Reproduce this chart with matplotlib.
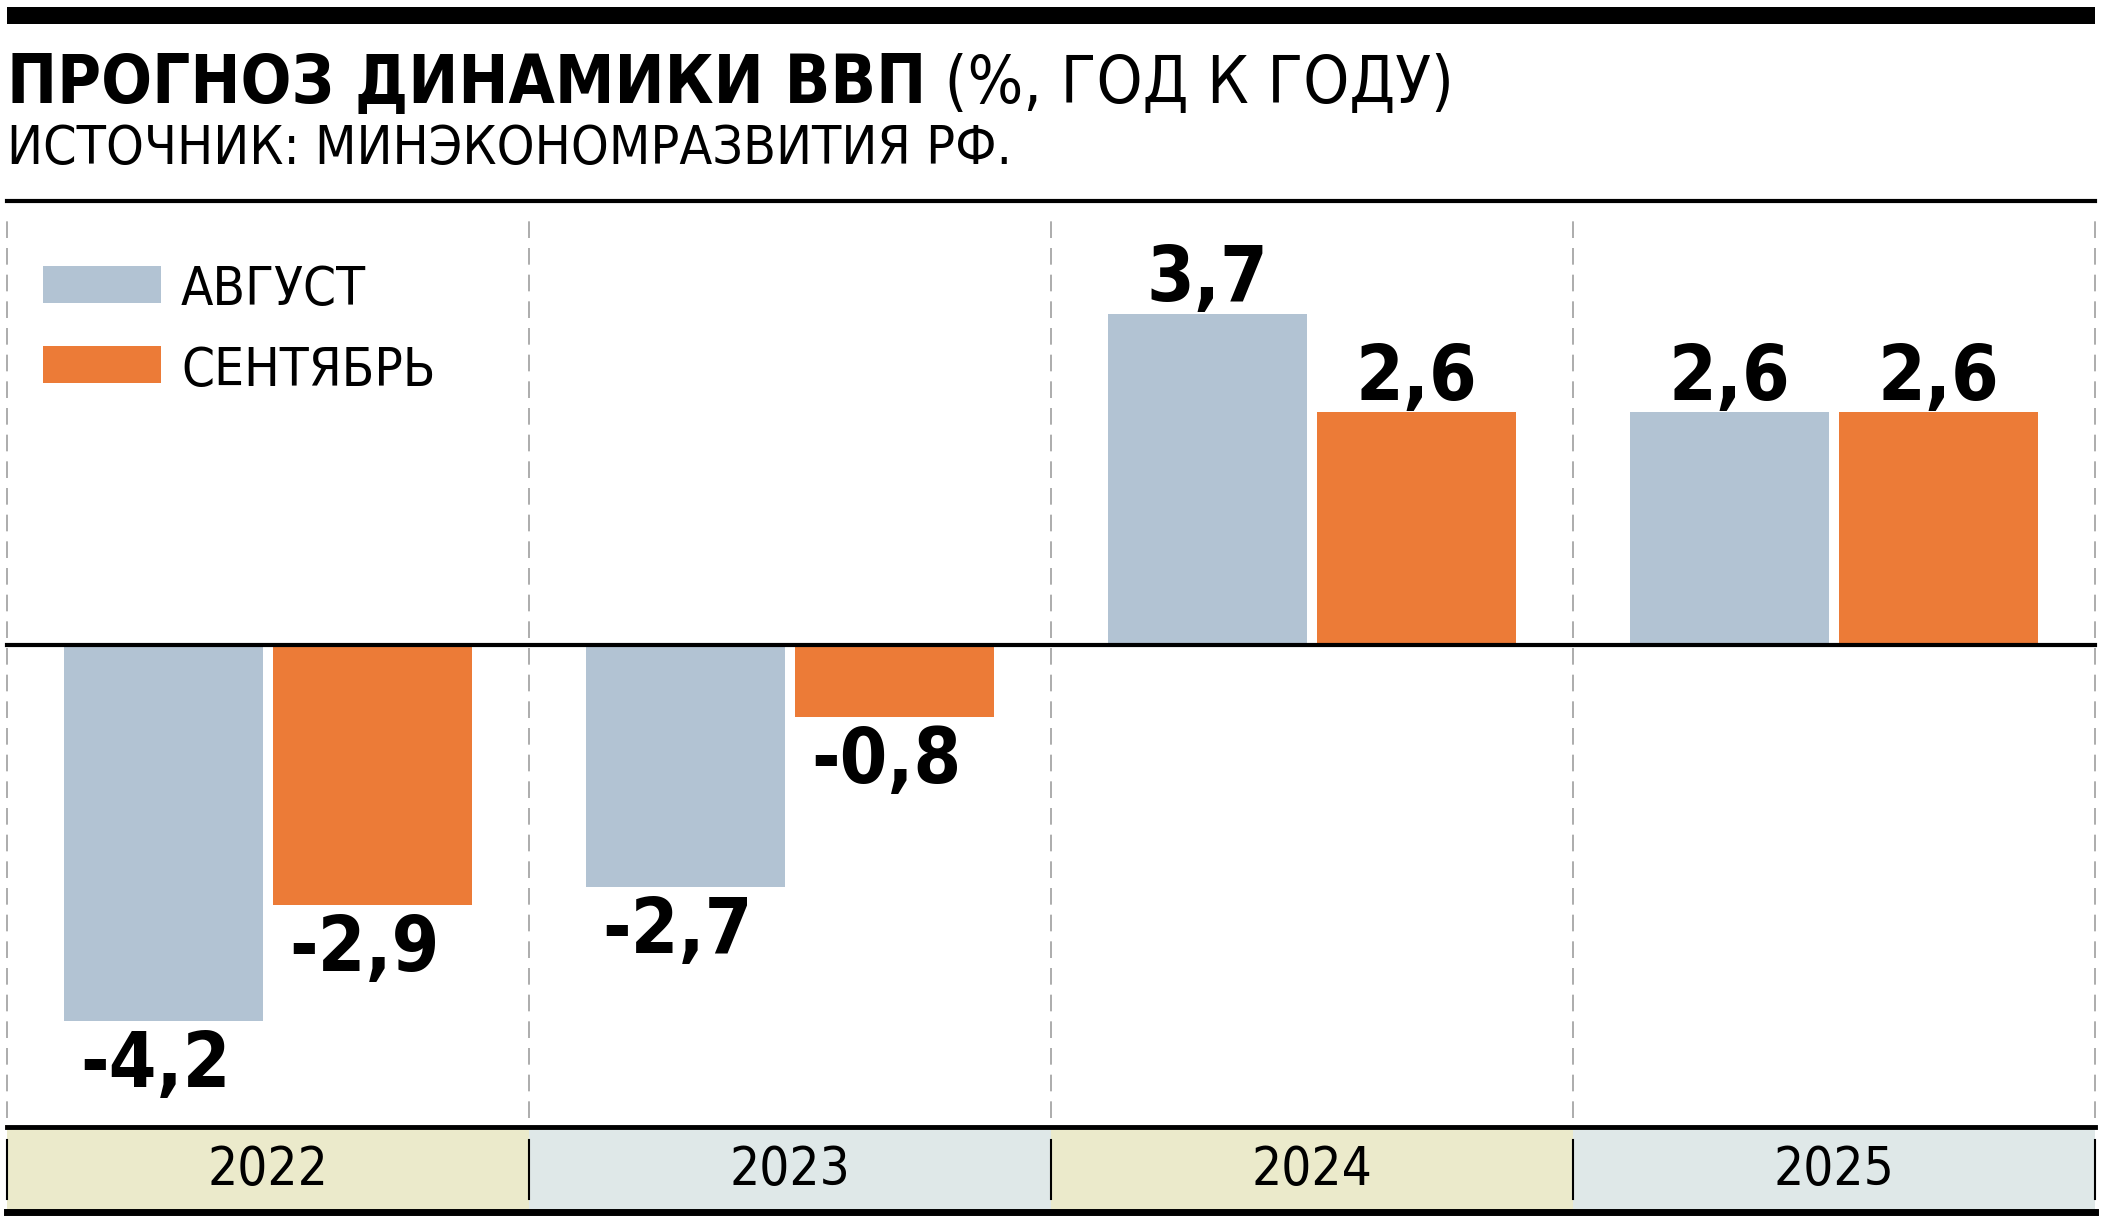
import matplotlib
matplotlib.use("Agg")
import matplotlib.pyplot as plt
from matplotlib.patches import Rectangle
from matplotlib.lines import Line2D

years = ["2022", "2023", "2024", "2025"]
series_names = ["АВГУСТ", "СЕНТЯБРЬ"]
august = [-4.2, -2.7, 3.7, 2.6]
september = [-2.9, -0.8, 2.6, 2.6]

title_bold = "ПРОГНОЗ ДИНАМИКИ ВВП"
title_rest = " (%, ГОД К ГОДУ)"
subtitle = "ИСТОЧНИК: МИНЭКОНОМРАЗВИТИЯ РФ."

colors = ["#b2c3d3", "#ec7b37"]
band_colors = ["#ebeacb", "#dfe8e8"]

plt.rcParams["font.family"] = ["DejaVu Sans"]
plt.rcParams["font.stretch"] = "condensed"

W, H = 2106, 1232
fig = plt.figure(figsize=(W / 100, H / 100), dpi=100)


def fx(px):
    return px / W


def fy(py):
    return 1 - py / H


# top black bar and rule under subtitle
fig.add_artist(Rectangle((fx(7), fy(24)), fx(2095) - fx(7), 17 / H,
                         transform=fig.transFigure, color="black", lw=0))
fig.add_artist(Line2D([fx(7), fx(2095)], [fy(201), fy(201)], lw=3, color="black"))

t1 = fig.text(fx(7), fy(103), title_bold, fontsize=48, fontweight="bold", va="baseline")
fig.canvas.draw()
bb = t1.get_window_extent()
fig.text(bb.x1 / W, fy(103), title_rest, fontsize=47, va="baseline")
fig.text(fx(7), fy(164), subtitle, fontsize=38.5, va="baseline")

# main chart
y_top, y_bot, y_zero, px_per_unit = 215, 1118, 645, 89.5
ax = fig.add_axes([fx(7), fy(y_bot), fx(2095) - fx(7), (y_bot - y_top) / H])
ax.set_xlim(-0.5, len(years) - 0.5)
ax.set_ylim(-(y_bot - y_zero) / px_per_unit, (y_zero - y_top) / px_per_unit)
ax.axis("off")

w = 0.38
x = range(len(years))
for k, vals in enumerate([august, september]):
    xs = [i + (k - 0.5) * (w + 0.02) for i in x]
    ax.bar(xs, vals, width=w, color=colors[k], zorder=2)
    for xi, v in zip(xs, vals):
        lbl = f"{v:.1f}".replace(".", ",")
        if v >= 0:
            ax.annotate(lbl, (xi, v), xytext=(0, 9), textcoords="offset points",
                        ha="center", va="baseline", fontsize=55, fontweight="bold")
        else:
            ax.annotate(lbl, (xi, v), xytext=(-6, -6), textcoords="offset points",
                        ha="center", va="top", fontsize=55, fontweight="bold")

for b in [i - 0.5 for i in range(len(years) + 1)]:
    ax.axvline(b, color="#9e9e9e", lw=1.2, linestyle=(0, (10, 6)), clip_on=False, zorder=1)
ax.axhline(0, color="black", lw=3, zorder=3, clip_on=False)

# legend
for k, name in enumerate(series_names):
    y0 = 266 + k * 80
    fig.add_artist(Rectangle((fx(43), fy(y0 + 37)), fx(161) - fx(43), 37 / H,
                             transform=fig.transFigure, color=colors[k], lw=0))
    fig.text(fx(181), fy(y0 + 19), name, fontsize=38, va="center_baseline")

# year band
bax = fig.add_axes([fx(7), fy(1212), fx(2095) - fx(7), (1212 - 1127) / H])
bax.set_xlim(-0.5, len(years) - 0.5)
bax.set_ylim(0, 1)
bax.axis("off")
for i, yr in enumerate(years):
    bax.axvspan(i - 0.5, i + 0.5, color=band_colors[i % 2], lw=0)
    bax.text(i, 0.5, yr, ha="center", va="center", fontsize=38)
for b in [i - 0.5 for i in range(len(years) + 1)]:
    bax.plot([b, b], [0.15, 0.85], color="black", lw=1.5, clip_on=False)
bax.axhline(1, color="black", lw=3.5, clip_on=False)
bax.axhline(0, color="black", lw=5, clip_on=False)

fig.savefig("out.png", dpi=100)
